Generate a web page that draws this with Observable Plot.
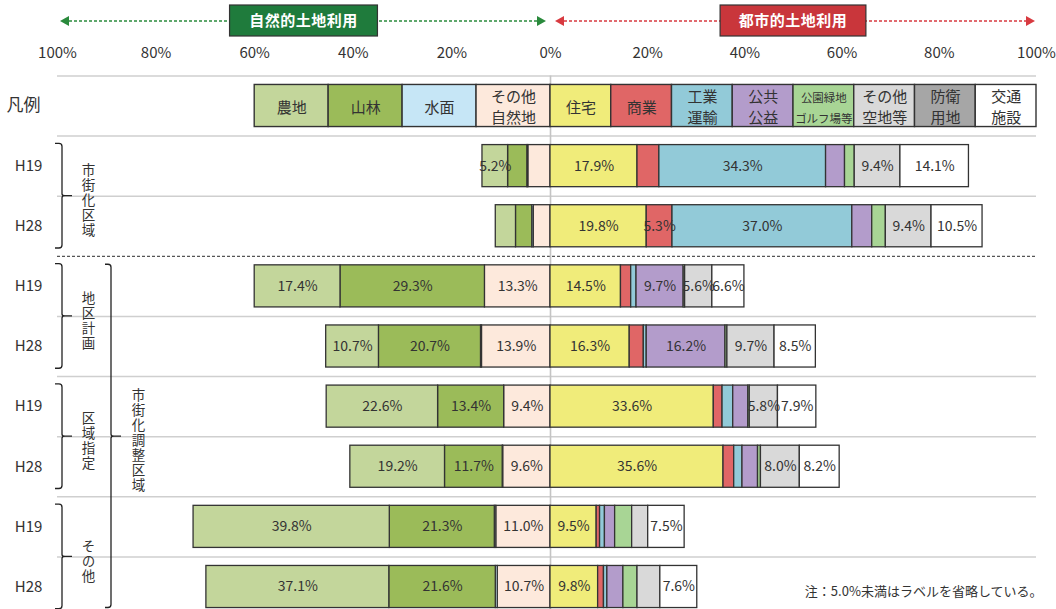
<!DOCTYPE html>
<html><head><meta charset="utf-8">
<script src="https://cdn.jsdelivr.net/npm/d3@7"></script>
<script src="https://cdn.jsdelivr.net/npm/@observablehq/plot@0.6"></script>
<style>
body{margin:0;background:#fff;}
#chart svg{display:block;}
</style></head><body><div id="chart"></div>
<script>
// ---- data ----
const naturalCats = ["農地","山林","水面","その他自然地"];
const urbanCats = ["住宅","商業","工業運輸","公共公益","公園緑地ゴルフ場等","その他空地等","防衛用地","交通施設"];
const legendLabels = ["農地","山林","水面","その他\n自然地","住宅","商業","工業\n運輸","公共\n公益","公園緑地\nゴルフ場等","その他\n空地等","防衛\n用地","交通\n施設"];
const catColors = ["#c3d69b","#9bbb59","#c6e6f6","#fde9dc","#f0ec7a","#e06666","#92cad8","#b39ccb","#a8d595","#d9d9d9","#a6a6a6","#ffffff"];
const rowYears = ["H19","H28","H19","H28","H19","H28","H19","H28"];
const subGroups = [
  {name: "市街化区域", rows: [1, 2]},
  {name: "地区計画", rows: [3, 4]},
  {name: "区域指定", rows: [5, 6]},
  {name: "その他", rows: [7, 8]}
];
const outerGroups = [{name: "市街化調整区域", rows: [3, 8]}];
// values: 農地,山林,水面,その他自然地 | 住宅,商業,工業運輸,公共公益,公園緑地,その他空地,防衛用地,交通施設
const shigaikaH19 = [5.2, 3.9, 0.2, 4.5, 17.9, 4.5, 34.3, 3.9, 2.0, 9.4, 0, 14.1];
const shigaikaH28 = [4.1, 3.3, 0.3, 3.4, 19.8, 5.3, 37.0, 4.1, 2.8, 9.4, 0, 10.5];
const chikuH19    = [17.4, 29.3, 0, 13.3, 14.5, 2.1, 1.1, 9.7, 0.3, 5.6, 0, 6.6];
const chikuH28    = [10.7, 20.7, 0.2, 13.9, 16.3, 2.9, 0.6, 16.2, 0.4, 9.7, 0, 8.5];
const kuikiH19    = [22.6, 13.4, 0, 9.4, 33.6, 1.8, 2.2, 3.1, 0.3, 5.8, 0, 7.9];
const kuikiH28    = [19.2, 11.7, 0.1, 9.6, 35.6, 2.2, 1.7, 3.2, 0.6, 8.0, 0, 8.2];
const sonotaH19   = [39.8, 21.3, 0.3, 11.0, 9.5, 0.7, 1.0, 2.1, 3.5, 3.3, 0, 7.5];
const sonotaH28   = [37.1, 21.6, 0.4, 10.7, 9.8, 1.2, 0.7, 3.3, 2.9, 4.7, 0, 7.6];
const rowValues = [shigaikaH19, shigaikaH28, chikuH19, chikuH28, kuikiH19, kuikiH28, sonotaH19, sonotaH28];
const tickValues = [-100, -80, -60, -40, -20, 0, 20, 40, 60, 80, 100];
const headerLabels = ["自然的土地利用", "都市的土地利用"];
const legendTitle = "凡例";
const noteText = "注：5.0%未満はラベルを省略している。";
const labelThreshold = 5.0;

// ---- derived tables ----
const segs = [];
rowValues.forEach((vals, r) => {
  const row = r + 1;
  let acc = 0;
  for (let k = naturalCats.length - 1; k >= 0; k--) {
    const v = vals[k];
    if (v > 0) segs.push({row, cat: naturalCats[k], color: catColors[k], v, x1: -(acc + v), x2: -acc});
    acc += v;
  }
  acc = 0;
  urbanCats.forEach((c, j) => {
    const k = naturalCats.length + j;
    const v = vals[k];
    if (v > 0) segs.push({row, cat: c, color: catColors[k], v, x1: acc, x2: acc + v});
    acc += v;
  });
});

const legendCells = legendLabels.map((label, k) => {
  const natural = k < naturalCats.length;
  const w = natural ? 15 : 100 / urbanCats.length;
  const x1 = natural ? -w * (naturalCats.length - k) : (k - naturalCats.length) * w;
  return {label, color: catColors[k], x1, x2: x1 + w, small: label.startsWith("公園")};
});

const half = 0.35;
const nRows = rowValues.length;
const gridRows = d3.range(-1, nRows).map(k => k + 0.5).filter(b => b !== subGroups[0].rows[1] + 0.5);
const dashedRows = [subGroups[0].rows[1] + 0.5];
const verticalNames = [...subGroups, ...outerGroups].map(g => g.name);

// decorations: header arrows/boxes and braces
function decorations(index, scales) {
  const X = scales.x, Y = scales.y;
  const g = d3.create("svg:g");
  const arrowY = 21, head = 9;
  const sides = [
    {label: headerLabels[0], sign: -1, fill: "#1f7b3c", line: "#2a8a3c"},
    {label: headerLabels[1], sign: 1, fill: "#c9363b", line: "#d83a40"}
  ];
  for (const s of sides) {
    const inner = X(0) + (s.sign < 0 ? -4 : 5);
    const outer = X(s.sign * 100) + (s.sign < 0 ? 3 : -1);
    const a = Math.min(inner, outer), b = Math.max(inner, outer);
    g.append("line").attr("x1", a + head).attr("x2", b - head).attr("y1", arrowY).attr("y2", arrowY)
      .attr("stroke", s.line).attr("stroke-width", 1.5).attr("stroke-dasharray", "3,2");
    g.append("path").attr("d", `M${a},${arrowY}L${a + head},${arrowY - 5}L${a + head},${arrowY + 5}Z`).attr("fill", s.line);
    g.append("path").attr("d", `M${b},${arrowY}L${b - head},${arrowY - 5}L${b - head},${arrowY + 5}Z`).attr("fill", s.line);
    const bx1 = Math.min(X(s.sign * 35), X(s.sign * 65)), bx2 = Math.max(X(s.sign * 35), X(s.sign * 65));
    g.append("rect").attr("x", bx1).attr("y", 5).attr("width", bx2 - bx1).attr("height", 31)
      .attr("fill", s.fill).attr("stroke", "#333").attr("stroke-width", 1.2);
    g.append("text").attr("x", (bx1 + bx2) / 2).attr("y", 20.5).attr("dy", "0.35em")
      .attr("text-anchor", "middle").attr("fill", "#fff").attr("font-weight", "bold")
      .attr("font-size", 15).attr("letter-spacing", 0.5).text(s.label);
  }
  const brace = (x, top, mid, bottom, out) => {
    const r = 3;
    return `M${x - out},${top}H${x - r}Q${x},${top} ${x},${top + r}V${mid - 2}Q${x},${mid} ${x + 3},${mid}H${x + 10}` +
      `M${x + 3},${mid}Q${x},${mid} ${x},${mid + 2}V${bottom - r}Q${x},${bottom} ${x - r},${bottom}H${x - out}`;
  };
  for (const grp of subGroups) {
    const [r0, r1] = grp.rows;
    g.append("path").attr("d", brace(62, Y(r0 - 0.37), Y((r0 + r1) / 2), Y(r1 + 0.37), 7))
      .attr("fill", "none").attr("stroke", "#222").attr("stroke-width", 1.3);
  }
  for (const grp of outerGroups) {
    const [r0, r1] = grp.rows;
    g.append("path").attr("d", brace(111, Y(r0 - 0.36), Y((r0 + r1) / 2), Math.min(Y(r1 + 0.36), 607.5), 6))
      .attr("fill", "none").attr("stroke", "#222").attr("stroke-width", 1.3);
  }
  return g.node();
}

const chart = Plot.plot({
  width: 1056,
  height: 609,
  marginTop: 75, marginLeft: 0, marginRight: 0, marginBottom: 0,
  style: {fontFamily: "'Noto Sans CJK JP', 'Noto Sans', sans-serif", background: "#fff", color: "#333"},
  x: {type: "linear", domain: [-100, 0, 100], range: [57, 550, 1036]},
  y: {type: "linear", domain: [0, 8], range: [105.5, 586.5], axis: null},
  color: {type: "identity"},
  marks: [
    Plot.axisX(tickValues, {anchor: "top", tickSize: 0, tickPadding: 22, lineAnchor: "middle",
      tickFormat: d => Math.abs(d) + "%", fontSize: 15, fill: "#333", label: null}),
    Plot.ruleY(gridRows, {x1: -100, x2: 100, stroke: "#cfcfcf", strokeWidth: 1.6}),
    Plot.ruleY(dashedRows, {x1: -100, x2: 100, stroke: "#555", strokeWidth: 1.3, strokeDasharray: "3,2"}),
    Plot.ruleX([0], {y1: -0.5, y2: 8.5, stroke: "#c4c4c4", strokeWidth: 1.6}),
    // legend
    Plot.rect(legendCells, {x1: "x1", x2: "x2", y1: -half, y2: half, fill: "color", stroke: "#333", strokeWidth: 1.4}),
    Plot.text(legendCells.filter(d => !d.small), {x: d => (d.x1 + d.x2) / 2, y: 0, text: "label", fontSize: 15, lineHeight: 1.4, fill: "#333"}),
    Plot.text(legendCells.filter(d => d.small), {x: d => (d.x1 + d.x2) / 2, y: 0, text: "label", fontSize: 11.5, lineHeight: 1.8, fill: "#333"}),
    Plot.text([legendTitle], {frameAnchor: "left", y: 0, dx: 6, textAnchor: "start", text: d => d, fontSize: 17, fill: "#333"}),
    // bars
    Plot.rect(segs, {x1: "x1", x2: "x2", y1: d => d.row - half, y2: d => d.row + half, fill: "color", stroke: "#333", strokeWidth: 1.3}),
    Plot.text(segs.filter(d => d.v >= labelThreshold), {x: d => (d.x1 + d.x2) / 2, y: "row", text: d => d.v.toFixed(1) + "%", fontSize: 14, fill: "#333"}),
    // row labels
    Plot.text(rowYears, {frameAnchor: "left", y: (d, i) => i + 1, dx: 28, textAnchor: "middle", text: d => d, fontSize: 15, fill: "#333"}),
    Plot.text(subGroups, {frameAnchor: "left", y: g => (g.rows[0] + g.rows[1]) / 2, dx: 88, textAnchor: "middle", text: "name", fontSize: 13.5, fill: "#333"}),
    Plot.text(outerGroups, {frameAnchor: "left", y: g => (g.rows[0] + g.rows[1]) / 2, dx: 138, textAnchor: "middle", text: "name", fontSize: 13.5, fill: "#333"}),
    decorations,
    Plot.text([noteText], {frameAnchor: "bottom-right", dx: -14, dy: -14, textAnchor: "end", text: d => d, fontSize: 13, fill: "#333"})
  ]
});
// set group labels in vertical writing mode
d3.select(chart).selectAll("text")
  .filter(function() { return verticalNames.includes(this.textContent); })
  .attr("dy", null)
  .style("writing-mode", "vertical-rl")
  .style("letter-spacing", "1.5px");
document.getElementById("chart").appendChild(chart);
</script></body></html>
